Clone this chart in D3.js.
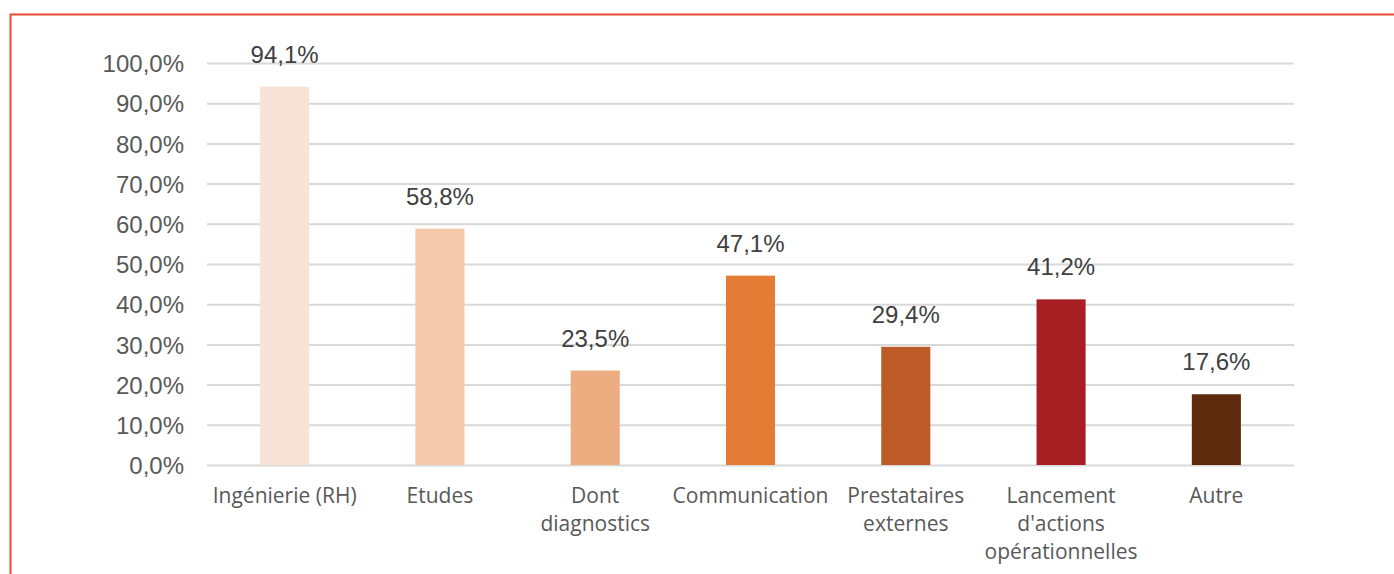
<!DOCTYPE html>
<html>
<head>
<meta charset="utf-8">
<script src="https://cdn.jsdelivr.net/npm/d3@7"></script>
<style>
  html, body { margin: 0; padding: 0; background: #fff; overflow: hidden; }
  svg { display: block; }
</style>
</head>
<body>
<svg id="chart" width="1394" height="574"></svg>
<script>
// Share of actions by type
const categories = [
  ["Ingénierie (RH)"],
  ["Etudes"],
  ["Dont", "diagnostics"],
  ["Communication"],
  ["Prestataires", "externes"],
  ["Lancement", "d'actions", "opérationnelles"],
  ["Autre"]
];
const values = [94.1, 58.8, 23.5, 47.1, 29.4, 41.2, 17.6];
const barColors = ["#F8E3D6", "#F4C9AB", "#EDAD81", "#E57C35", "#BC5A28", "#A81F23", "#5D2A0E"];
const yTicks = [0, 10, 20, 30, 40, 50, 60, 70, 80, 90, 100];

const svg = d3.select("#chart");
const W = 1394, H = 574;
const plot = { left: 207, right: 1294, top: 63, bottom: 465 };

// Outer frame (top and left edges visible)
svg.append("rect")
  .attr("x", 10.5).attr("y", 14.5)
  .attr("width", W + 20).attr("height", H + 20)
  .attr("fill", "none")
  .attr("stroke", "#E84A35")
  .attr("stroke-width", 2);

const x = d3.scaleBand()
  .domain(d3.range(categories.length))
  .range([plot.left, plot.right])
  .paddingInner(0.684)
  .paddingOuter(0.342);

const y = d3.scaleLinear().domain([0, 100]).range([plot.bottom, plot.top]);

const fmt = v => v.toFixed(1).replace(".", ",") + "%";

// Gridlines and tick labels
const yAxis = d3.axisLeft(y)
  .tickValues(yTicks)
  .tickSize(-(plot.right - plot.left))
  .tickPadding(23)
  .tickFormat(fmt);

const gy = svg.append("g")
  .attr("transform", `translate(${plot.left},0)`)
  .call(yAxis);
gy.select(".domain").remove();
gy.selectAll(".tick line")
  .attr("stroke", "#D9D9D9")
  .attr("stroke-width", 2);
gy.selectAll(".tick text")
  .attr("fill", "#595959")
  .attr("dy", "0.36em")
  .style("font-family", "Arial, 'Liberation Sans', sans-serif")
  .style("font-size", "24px");

// Bars
svg.append("g").selectAll("rect")
  .data(values)
  .join("rect")
  .attr("x", (d, i) => x(i))
  .attr("width", x.bandwidth())
  .attr("y", d => y(d))
  .attr("height", d => y(0) - y(d))
  .attr("fill", (d, i) => barColors[i]);

// Value labels
svg.append("g").selectAll("text")
  .data(values)
  .join("text")
  .attr("x", (d, i) => x(i) + x.bandwidth() / 2)
  .attr("y", d => y(d) - 24)
  .attr("text-anchor", "middle")
  .attr("fill", "#404040")
  .style("font-family", "Arial, 'Liberation Sans', sans-serif")
  .style("font-size", "24px")
  .text(d => fmt(d));

// Category labels
const gx = svg.append("g");
categories.forEach((lines, i) => {
  const t = gx.append("text")
    .attr("x", x(i) + x.bandwidth() / 2)
    .attr("y", 503)
    .attr("text-anchor", "middle")
    .attr("fill", "#595959")
    .style("font-family", "'Open Sans', sans-serif")
    .style("font-size", "21px");
  lines.forEach((ln, j) => {
    t.append("tspan")
      .attr("x", x(i) + x.bandwidth() / 2)
      .attr("dy", j === 0 ? 0 : 28)
      .text(ln);
  });
});
</script>
</body>
</html>
